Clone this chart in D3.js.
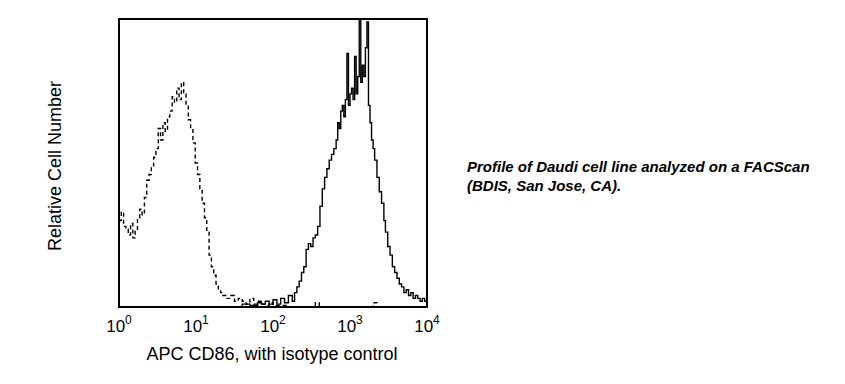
<!DOCTYPE html>
<html>
<head>
<meta charset="utf-8">
<script src="https://cdn.jsdelivr.net/npm/d3@7"></script>
<style>
  html, body { margin: 0; padding: 0; background: #fff; }
  svg { display: block; }
  text { font-family: "Liberation Sans", Arial, sans-serif; fill: #000; }
</style>
</head>
<body>
<svg id="chart" width="845" height="384"></svg>
<script>
// ---- data (log10 fluorescence decade, relative count) ----
const isoDecades = [0.00,0.03,0.06,0.09,0.12,0.15,0.18,0.21,0.24,0.27,0.30,0.33,0.36,0.39,0.42,0.45,0.48,0.51,0.54,0.57,0.60,0.63,0.66,0.69,0.72,0.75,0.78,0.81,0.84,0.87,0.90,0.93,0.96,0.99,1.02,1.05,1.08,1.11,1.14,1.17,1.20,1.23,1.26,1.29,1.32,1.35,1.40,1.45,1.50,1.55,1.60,1.65,1.70,1.75,1.80,1.85,1.90,1.95,2.00,2.10,2.20,2.50,2.55,2.60,3.25,3.30,3.35,4.00];
const isoCounts  = [30,33,28,27,25,29,24,27,31,34,32,38,44,46,49,52,55,62,58,64,61,66,68,73,71,76,72,78,74,70,65,62,57,50,46,41,36,31,26,18,14,11,8,6,5,4,3,4,2,3,2,1,3,1,2,1,0.5,1.5,0.5,0.5,0,0,1.5,0,0,1.5,0,0];

const cd86Decades = [1.30,1.50,1.60,1.70,1.80,1.85,1.90,1.95,2.00,2.05,2.10,2.15,2.20,2.25,2.28,2.31,2.34,2.37,2.40,2.43,2.46,2.49,2.52,2.55,2.58,2.61,2.64,2.67,2.70,2.73,2.76,2.79,2.82,2.84,2.86,2.88,2.90,2.92,2.94,2.96,2.98,3.00,3.02,3.04,3.06,3.08,3.10,3.12,3.14,3.16,3.18,3.20,3.22,3.24,3.26,3.28,3.30,3.32,3.35,3.38,3.41,3.44,3.46,3.49,3.52,3.55,3.58,3.61,3.64,3.67,3.70,3.73,3.76,3.79,3.82,3.85,3.88,3.91,3.94,3.97,4.00];
const cd86Counts  = [0,0,1,0.5,1.5,1,2,1,2.5,1,3,1.5,4,2,5,7,9,12,14,20,22,21,24,25,28,35,41,45,48,51,53,55,58,64,62,68,70,66,72,88,70,74,76,72,87,74,80,100,78,84,80,90,99,70,64,58,55,51,45,40,36,30,26,21,18,14,12,10,8,7,5,6,4,5,3,4,3,2,3,2,2];

const tickExponents = [0, 1, 2, 3, 4];
const xLabel = "APC CD86, with isotype control";
const yLabel = "Relative Cell Number";
const noteLines = ["Profile of Daudi cell line analyzed on a FACScan", "(BDIS, San Jose, CA)."];

// ---- layout ----
const svg = d3.select("#chart");
const L = 119, R = 427, T = 19, B = 307;

const x = d3.scaleLog().domain([1, 1e4]).range([L, R]);
const y = d3.scaleLinear().domain([0, 100]).range([B, T]);

svg.append("defs").append("clipPath").attr("id", "clip")
  .append("rect").attr("x", L).attr("y", T).attr("width", R - L).attr("height", B - T);

const line = d3.line()
  .x(d => x(Math.pow(10, d[0])))
  .y(d => y(d[1]))
  .curve(d3.curveStepAfter);

const iso = isoDecades.map((d, i) => [d, isoCounts[i]]);
const cd86 = cd86Decades.map((d, i) => [d, cd86Counts[i]]);

const g = svg.append("g").attr("clip-path", "url(#clip)");
g.append("path").datum(iso)
  .attr("d", line).attr("fill", "none").attr("stroke", "#000")
  .attr("stroke-width", 1.4).attr("stroke-dasharray", "4,3");
g.append("path").datum(cd86)
  .attr("d", line).attr("fill", "none").attr("stroke", "#000")
  .attr("stroke-width", 1.4);

// frame
svg.append("rect").attr("x", L).attr("y", T).attr("width", R - L).attr("height", B - T)
  .attr("fill", "none").attr("stroke", "#000").attr("stroke-width", 2);

// tick labels
const tl = svg.append("g").selectAll("text").data(tickExponents).join("text")
  .attr("x", d => x(Math.pow(10, d)))
  .attr("y", 332)
  .attr("text-anchor", "middle")
  .style("font-size", "17px");
tl.append("tspan").text("10");
tl.append("tspan").attr("dy", -8).style("font-size", "12px").text(d => d);

// axis labels
svg.append("text").attr("x", (L + R) / 2 - 1).attr("y", 360)
  .attr("text-anchor", "middle").style("font-size", "18px").text(xLabel);
svg.append("text").attr("transform", "translate(61,166) rotate(-90)")
  .attr("text-anchor", "middle").style("font-size", "18px").text(yLabel);

// note
svg.append("g").selectAll("text").data(noteLines).join("text")
  .attr("x", 467).attr("y", (d, i) => 172 + i * 19)
  .style("font-size", "15px").style("font-weight", "bold").style("font-style", "italic")
  .text(d => d);
</script>
</body>
</html>
